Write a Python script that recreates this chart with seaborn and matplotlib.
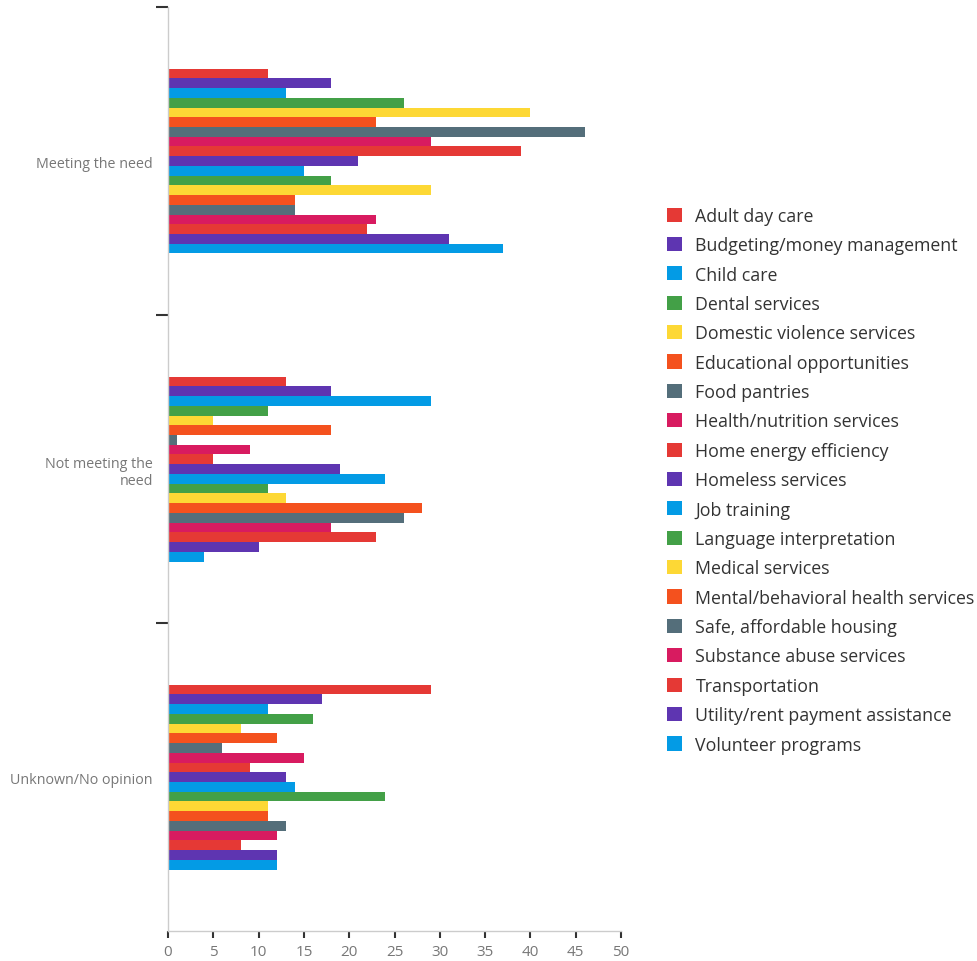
import matplotlib
matplotlib.use("Agg")
import matplotlib.pyplot as plt
import pandas as pd
import seaborn as sns
from matplotlib.ticker import FixedLocator

sns.set_theme(style="white")
plt.rcParams["font.family"] = ["Open Sans", "DejaVu Sans"]

CATEGORIES = ["Meeting the need", "Not meeting the\nneed", "Unknown/No opinion"]

SERVICES = [
    "Adult day care", "Budgeting/money management", "Child care", "Dental services",
    "Domestic violence services", "Educational opportunities", "Food pantries",
    "Health/nutrition services", "Home energy efficiency", "Homeless services",
    "Job training", "Language interpretation", "Medical services",
    "Mental/behavioral health services", "Safe, affordable housing",
    "Substance abuse services", "Transportation", "Utility/rent payment assistance",
    "Volunteer programs",
]

MEETING = [11, 18, 13, 26, 40, 23, 46, 29, 39, 21, 15, 18, 29, 14, 14, 23, 22, 31, 37]
NOT_MEETING = [13, 18, 29, 11, 5, 18, 1, 9, 5, 19, 24, 11, 13, 28, 26, 18, 23, 10, 4]
UNKNOWN = [29, 17, 11, 16, 8, 12, 6, 15, 9, 13, 14, 24, 11, 11, 13, 12, 8, 12, 12]

BASE_COLORS = ["#E53935", "#5E35B1", "#039BE5", "#43A047",
               "#FDD835", "#F4511E", "#546E7A", "#D81B60"]
palette = [BASE_COLORS[i % len(BASE_COLORS)] for i in range(len(SERVICES))]

rows = []
for cat, vals in zip(CATEGORIES, [MEETING, NOT_MEETING, UNKNOWN]):
    for svc, v in zip(SERVICES, vals):
        rows.append({"category": cat, "service": svc, "value": v})
df = pd.DataFrame(rows)

fig = plt.figure(figsize=(9.77, 9.62), dpi=100)
ax = fig.add_axes([0.172, 0.031, 0.4636, 0.9607])

sns.barplot(data=df, x="value", y="category", hue="service", hue_order=SERVICES,
            order=CATEGORIES, palette=palette, orient="h", width=0.6,
            saturation=1, ax=ax, errorbar=None, linewidth=0)

ax.set_xlim(0, 50)
ax.set_ylim(2.5, -0.5)
ax.set_xticks(range(0, 51, 5))
ax.set_xlabel("")
ax.set_ylabel("")

# group boundaries get the tick marks, labels sit at group centres
ax.yaxis.set_major_locator(FixedLocator([-0.5, 0.5, 1.5]))
ax.set_yticklabels([])
ax.yaxis.set_minor_locator(FixedLocator([0, 1, 2]))
ax.set_yticklabels(CATEGORIES, minor=True, ha="right")
ax.tick_params(axis="y", which="major", left=True, length=9, width=1.5,
               color="#333333")
ax.tick_params(axis="y", which="minor", left=False, pad=7, labelsize=10.3,
               labelcolor="#777777")
ax.tick_params(axis="x", bottom=True, length=5, width=1.5, color="#333333",
               labelsize=11, labelcolor="#777777", pad=4)

for side in ["top", "right"]:
    ax.spines[side].set_visible(False)
for side in ["left", "bottom"]:
    ax.spines[side].set_color("#cccccc")
    ax.spines[side].set_linewidth(1)

handles, labels = ax.get_legend_handles_labels()
ax.legend(handles, labels, loc="center left", bbox_to_anchor=(1.086, 0.488),
          frameon=False, fontsize=12.8, handlelength=0.85, handleheight=0.85,
          handletextpad=0.75, labelspacing=0.64, labelcolor="#333333",
          borderaxespad=0)

fig.savefig("out.png", dpi=100)
